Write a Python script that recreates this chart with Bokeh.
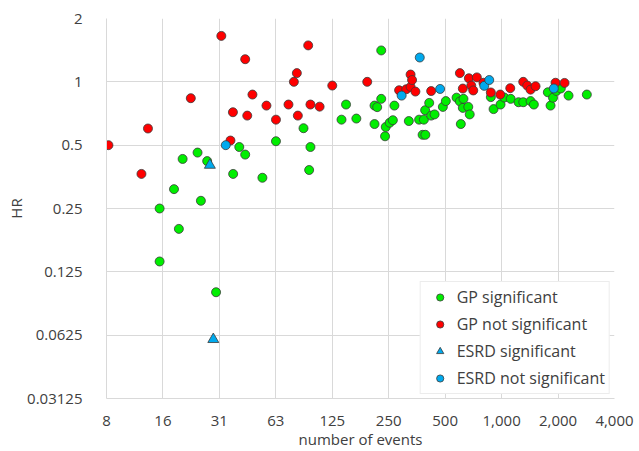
from bokeh.plotting import figure
from bokeh.models import FixedTicker, Legend
from bokeh.embed import file_html
from bokeh.resources import INLINE

# ---- data ----
gp_sig_events = [15.0, 15.0, 19.0, 17.9, 19.9, 23.9, 24.9, 26.9, 30.0, 37.0, 39.9, 42.9, 53, 62.6,
                 87.8, 94.1, 95.6, 140, 148, 168, 210, 210, 217, 228, 228, 239, 241, 253, 263, 268,
                 320, 363, 379, 385, 391, 392, 411, 421, 439, 486, 504, 575, 599, 606, 621, 626,
                 664, 676, 876, 906, 987, 1033, 1118, 1231, 1304, 1427, 1486, 1764, 1824, 1880,
                 1960, 2069, 2275, 2848]
gp_sig_hr = [0.25, 0.14, 0.2, 0.309, 0.43, 0.461, 0.272, 0.42, 0.1, 0.365, 0.49, 0.451, 0.35, 0.522,
             0.602, 0.381, 0.49, 0.661, 0.78, 0.669, 0.63, 0.771, 0.758, 1.41, 0.83, 0.551, 0.61, 0.639,
             0.657, 0.771, 0.651, 0.661, 0.56, 0.661, 0.733, 0.56, 0.794, 0.691, 0.70, 0.76, 0.81, 0.841,
             0.807, 0.63, 0.752, 0.83, 0.76, 0.70, 0.846, 0.742, 0.78, 0.842, 0.83, 0.80, 0.80, 0.81,
             0.78, 0.892, 0.771, 0.84, 0.905, 0.93, 0.86, 0.87]

gp_ns_events = [8, 12, 13, 22, 32, 35.8, 36.9, 42.9, 44, 46.9, 55.7, 62.6, 73, 78, 80.9, 81.9, 93, 95.6,
                107, 125, 192, 284, 310, 327, 327, 333, 347, 421, 599, 621, 669, 689, 706, 738, 800,
                876, 983, 1112, 1304, 1370, 1427, 1517, 1939, 2166]
gp_ns_hr = [0.5, 0.365, 0.6, 0.836, 1.653, 0.526, 0.717, 1.281, 0.691, 0.87, 0.771, 0.661, 0.78, 1.0,
            1.10, 0.691, 1.49, 0.78, 0.762, 0.96, 1.0, 0.912, 0.922, 0.946, 1.083, 1.02, 0.899, 0.904,
            1.10, 0.929, 1.04, 0.96, 0.91, 1.05, 0.99, 0.89, 0.87, 0.933, 1.0, 0.96, 0.918, 0.953,
            0.99, 0.988]

esrd_sig_events = [27.8, 29.0]
esrd_sig_hr = [0.402, 0.0597]

esrd_ns_events = [33.8, 293, 366, 470, 808, 859, 1899]
esrd_ns_hr = [0.5, 0.86, 1.305, 0.925, 0.957, 1.02, 0.93]

x_ticks = [7.8125, 15.625, 31.25, 62.5, 125, 250, 500, 1000, 2000, 4000]
x_tick_labels = ["8", "16", "31", "63", "125", "250", "500", "1,000", "2,000", "4,000"]
y_ticks = [0.03125, 0.0625, 0.125, 0.25, 0.5, 1, 2]
y_tick_labels = ["0.03125", "0.0625", "0.125", "0.25", "0.5", "1", "2"]

FONT = "Open Sans"
TXT = "#404040"
GRID = "#d9d9d9"

p = figure(width=639, height=451, x_axis_type="log", y_axis_type="log",
           x_range=(x_ticks[0], x_ticks[-1]), y_range=(y_ticks[0], y_ticks[-1]),
           output_backend="svg", toolbar_location=None,
           min_border_left=106, min_border_right=25, min_border_top=18, min_border_bottom=53)
p.outline_line_color = None
p.background_fill_color = "white"
p.border_fill_color = "white"

for ax, ticks, labels in ((p.xaxis[0], x_ticks, x_tick_labels), (p.yaxis[0], y_ticks, y_tick_labels)):
    ax.ticker = FixedTicker(ticks=ticks)
    ax.major_label_overrides = {t: l for t, l in zip(ticks, labels)}
    ax.major_tick_line_color = None
    ax.minor_tick_line_color = None
    ax.axis_line_color = GRID
    ax.major_label_text_font = FONT
    ax.major_label_text_font_size = "15px"
    ax.major_label_text_color = TXT
    ax.axis_label_text_font = FONT
    ax.axis_label_text_font_size = "15px"
    ax.axis_label_text_font_style = "normal"
    ax.axis_label_text_color = TXT

p.xaxis.axis_label = "number of events"
p.yaxis.axis_label = "HR"
p.xaxis.major_label_standoff = 11
p.xaxis.axis_label_standoff = 0
p.yaxis.major_label_standoff = 18
p.yaxis.axis_label_standoff = -2

p.xgrid.ticker = FixedTicker(ticks=x_ticks)
p.ygrid.ticker = FixedTicker(ticks=y_ticks)
p.xgrid.grid_line_color = GRID
p.ygrid.grid_line_color = GRID

OUT = "#3a3a3a"
r1 = p.scatter(gp_sig_events, gp_sig_hr, marker="circle", size=9, fill_color="#00ee00",
               line_color=OUT, line_width=0.8)
r2 = p.scatter(gp_ns_events, gp_ns_hr, marker="circle", size=9, fill_color="#ff0000",
               line_color=OUT, line_width=0.8)
r3 = p.scatter(esrd_sig_events, esrd_sig_hr, marker="triangle", size=11, fill_color="#00aaee",
               line_color=OUT, line_width=0.8)
r4 = p.scatter(esrd_ns_events, esrd_ns_hr, marker="circle", size=9, fill_color="#00aaee",
               line_color=OUT, line_width=0.8)

legend = Legend(items=[("GP significant", [r1]), ("GP not significant", [r2]),
                       ("ESRD significant", [r3]), ("ESRD not significant", [r4])],
                location="bottom_right")
legend.margin = 4
legend.padding = 4
legend.spacing = 5
legend.glyph_width = 30
legend.glyph_height = 18
legend.label_height = 18
legend.label_standoff = 2
legend.label_text_font = FONT
legend.label_text_font_size = "16px"
legend.label_text_color = TXT
legend.border_line_color = GRID
legend.background_fill_alpha = 1
p.add_layout(legend, "center")

open("out.html", "w").write(file_html(p, INLINE))
